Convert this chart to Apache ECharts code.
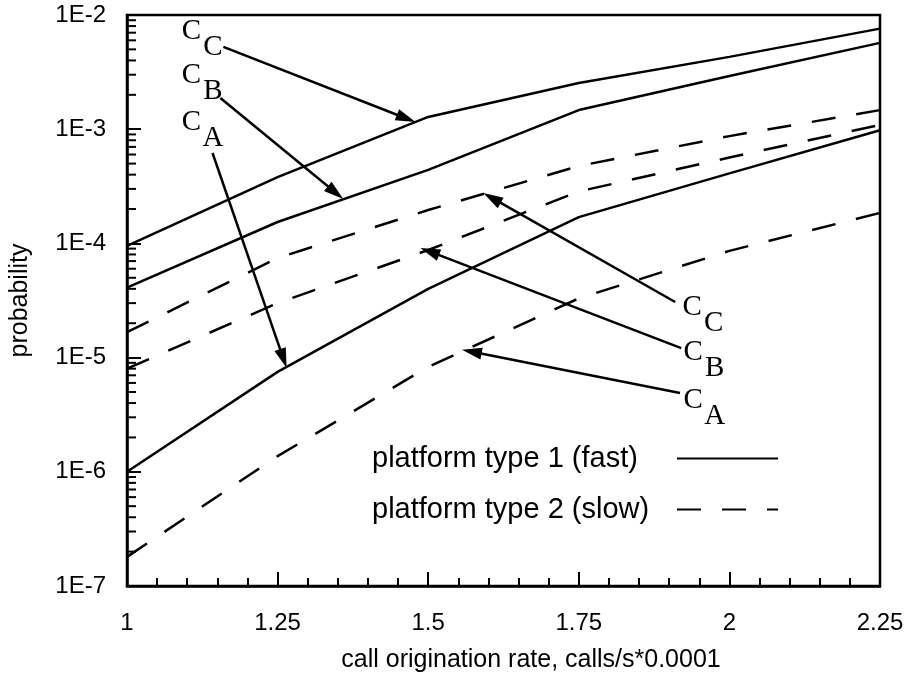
<!DOCTYPE html>
<html><head><meta charset="utf-8">
<script src="https://cdn.jsdelivr.net/npm/echarts/dist/echarts.min.js"></script>
<style>html,body{margin:0;padding:0;background:#fff}#c{width:913px;height:676px}</style>
</head><body><div id="c"></div>
<script>
// ---- data ----
const xValues = [1, 1.25, 1.5, 1.75, 2, 2.25];
const xTickLabels = ['1', '1.25', '1.5', '1.75', '2', '2.25'];
const yTickLabels = ['1E-7', '1E-6', '1E-5', '1E-4', '1E-3', '1E-2'];
const yMinorTicks = [2e-7,3e-7,4e-7,5e-7,6e-7,7e-7,8e-7,9e-7,
  2e-6,3e-6,4e-6,5e-6,6e-6,7e-6,8e-6,9e-6,
  2e-5,3e-5,4e-5,5e-5,6e-5,7e-5,8e-5,9e-5,
  2e-4,3e-4,4e-4,5e-4,6e-4,7e-4,8e-4,9e-4,
  2e-3,3e-3,4e-3,5e-3,6e-3,7e-3,8e-3,9e-3];
const fastName = 'platform type 1 (fast)';
const slowName = 'platform type 2 (slow)';
const fastCA = [1.0e-6, 7.5e-6, 4.0e-5, 1.70e-4, 4.1e-4, 9.8e-4];
const fastCB = [4.1e-5, 1.54e-4, 4.4e-4, 1.47e-3, 2.92e-3, 5.7e-3];
const fastCC = [9.5e-5, 3.8e-4, 1.28e-3, 2.54e-3, 4.3e-3, 7.6e-3];
const slowCA = [1.8e-7, 1.37e-6, 8.3e-6, 3.3e-5, 8.6e-5, 1.85e-4];
const slowCB = [8.0e-6, 3.0e-5, 8.75e-5, 2.85e-4, 5.65e-4, 1.09e-3];
const slowCC = [1.67e-5, 7.45e-5, 1.96e-4, 4.76e-4, 8.7e-4, 1.47e-3];
// annotation labels: [main letter, subscript, x, probability]
const annLabels = [
  ['C','C',1.107,7.24e-3], ['C','B',1.107,2.98e-3], ['C','A',1.107,1.156e-3],
  ['C','C',1.938,2.77e-5], ['C','B',1.940,1.10e-5], ['C','A',1.940,4.25e-6]
];
// annotation arrows: [tailX, tailY, tipX, tipY]
const annArrows = [
  [1.160,5.25e-3, 1.479,1.156e-3],
  [1.155,1.876e-3, 1.359,2.45e-4],
  [1.142,6.19e-4, 1.265,8.1e-6],
  [1.910,3.07e-5, 1.5915,2.76e-4],
  [1.920,1.21e-5, 1.487,9.12e-5],
  [1.918,4.9e-6, 1.556,1.17e-5]
];
// ---- chart ----
const SANS = '"Liberation Sans", Arial, sans-serif';
const SERIF = '"Liberation Serif", "Times New Roman", serif';
const chart = echarts.init(document.getElementById('c'), null, {renderer:'canvas'});
function mk(name, vals, dashed){
  return {type:'line', name, data: xValues.map((x,i)=>[x, vals[i]]), symbol:'none', showSymbol:false,
    lineStyle:{color:'#000', width:2.5, type: dashed ? [24,21] : 'solid'}, itemStyle:{color:'#000'},
    animation:false, z:3};
}
const option = {
  backgroundColor:'#fff',
  animation:false,
  grid:{left:115, right:33, top:15, bottom:90, show:true, borderColor:'#000', borderWidth:2.5, containLabel:false},
  legend:{
    data:[fastName, slowName], orient:'vertical', left:367, top:439, align:'right',
    itemWidth:101, itemHeight:30, itemGap:22, selectedMode:false,
    itemStyle:{opacity:0, borderWidth:0},
    formatter:(name)=>'{t|' + name + '}',
    textStyle:{fontFamily:SANS, fontSize:29, color:'#000',
      rich:{t:{width:300, align:'left', fontFamily:SANS, fontSize:29, color:'#000', lineHeight:30}}}
  },
  xAxis:{type:'value', min:1, max:2.25, interval:0.25,
    axisLine:{lineStyle:{color:'#000', width:2.5}},
    axisTick:{inside:true, length:14, lineStyle:{color:'#000', width:2}},
    minorTick:{show:true, splitNumber:5, length:8, lineStyle:{color:'#000', width:2}},
    splitLine:{show:false},
    axisLabel:{margin:25, color:'#000', fontFamily:SANS, fontSize:24,
      formatter:(v)=>{const i = xValues.findIndex(x=>Math.abs(x-v)<1e-9); return i>=0 ? xTickLabels[i] : '';}}
  },
  yAxis:{type:'log', logBase:10, min:1e-7, max:1e-2, interval:1,
    name:'probability', nameLocation:'middle', nameGap:94,
    nameTextStyle:{fontFamily:SANS, fontSize:25, color:'#000'},
    axisLine:{lineStyle:{color:'#000', width:2.5}},
    axisTick:{inside:true, length:14, lineStyle:{color:'#000', width:2}},
    splitLine:{show:false},
    axisLabel:{margin:21, color:'#000', fontFamily:SANS, fontSize:24,
      formatter:(v)=>{const i = Math.round(Math.log10(v))+7; return yTickLabels[i] || '';}}
  },
  series:[
    mk(fastName, fastCC, false), mk(fastName, fastCB, false), mk(fastName, fastCA, false),
    mk(slowName, slowCC, true), mk(slowName, slowCB, true), mk(slowName, slowCA, true),
    {type:'custom', silent:true, animation:false, clip:false, z:4,
     data: yMinorTicks.map(v=>[1, v]),
     renderItem:(params, api)=>{
       const p = api.coord([1, api.value(1)]);
       return {type:'line', shape:{x1:p[0], y1:p[1], x2:p[0]+9, y2:p[1]}, style:{stroke:'#000', lineWidth:2}};
     }}
  ],
  graphic:[{type:'text', x:531, y:660, z:10,
    style:{text:'call origination rate, calls/s*0.0001', font:'25px '+SANS, fill:'#000',
      textAlign:'center', textVerticalAlign:'middle', align:'center', verticalAlign:'middle'}}]
};
chart.setOption(option);

// annotations positioned in data space
const els = [];
const px = (x,y)=>chart.convertToPixel({gridIndex:0}, [x,y]);
annArrows.forEach(a=>{
  const t = px(a[0],a[1]), h = px(a[2],a[3]);
  const dx = h[0]-t[0], dy = h[1]-t[1], L = Math.hypot(dx,dy);
  const ux = dx/L, uy = dy/L, nx = -uy, ny = ux;
  const HL = 20, HW = 6;
  const bx = h[0]-ux*HL, by = h[1]-uy*HL;
  els.push({type:'line', z:10, shape:{x1:t[0], y1:t[1], x2:bx+ux*2, y2:by+uy*2}, style:{stroke:'#000', lineWidth:2.5}});
  els.push({type:'polygon', z:10, shape:{points:[[h[0],h[1]],[bx+nx*HW,by+ny*HW],[bx-nx*HW,by-ny*HW]]}, style:{fill:'#000'}});
});
annLabels.forEach(l=>{
  const p = px(l[2], l[3]);
  els.push({type:'text', z:10, x:p[0], y:p[1], style:{text:l[0], font:'29px '+SERIF, fill:'#000',
    textAlign:'center', textVerticalAlign:'middle', align:'center', verticalAlign:'middle'}});
  els.push({type:'text', z:10, x:p[0]+21.5, y:p[1]+16, style:{text:l[1], font:'29px '+SERIF, fill:'#000',
    textAlign:'center', textVerticalAlign:'middle', align:'center', verticalAlign:'middle'}});
});
chart.setOption({graphic: option.graphic.concat(els)});
</script>
</body></html>
